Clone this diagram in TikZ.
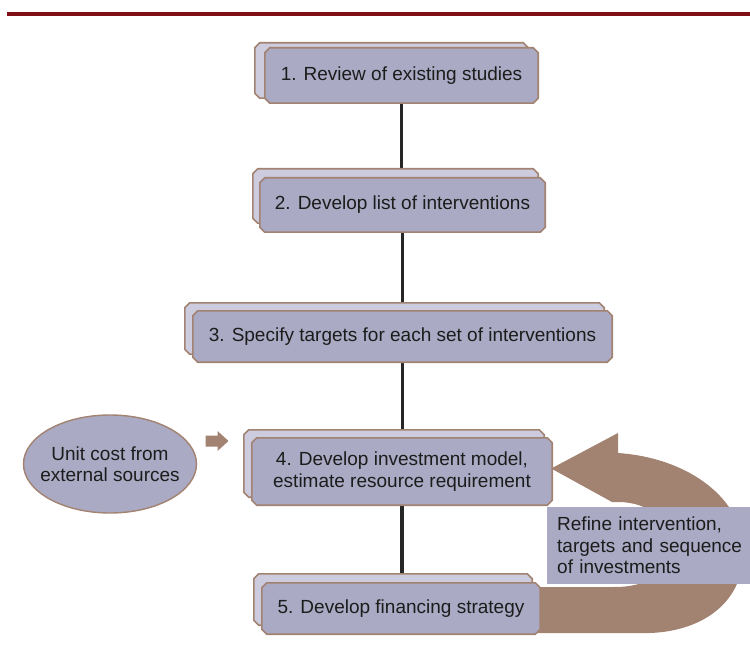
\documentclass[tikz,border=0pt]{standalone}
\usepackage{fontspec}
\setmainfont{Liberation Sans}
\usetikzlibrary{shapes.geometric,backgrounds,calc}
\definecolor{boxfill}{RGB}{170,170,196}
\definecolor{backfill}{RGB}{204,204,222}
\definecolor{brownc}{RGB}{162,130,112}
\definecolor{darkred}{RGB}{128,16,22}
\definecolor{txt}{RGB}{28,28,28}
\pgfdeclarelayer{boxes}
\pgfsetlayers{background,boxes,main}
% chamfered outline round a node: name, fill, dx, dy
\newcommand\chamferbox[4]{%
  \filldraw[fill=#2, draw=brownc, line width=1.6pt]
    ($(#1.north west)+(5+#3,#4)$) -- ($(#1.north east)+(-5+#3,#4)$) --
    ($(#1.north east)+(#3,5+#4)$) -- ($(#1.south east)+(#3,-5+#4)$) --
    ($(#1.south east)+(-5+#3,#4)$) -- ($(#1.south west)+(5+#3,#4)$) --
    ($(#1.south west)+(#3,-5+#4)$) -- ($(#1.north west)+(#3,5+#4)$) -- cycle;}
\begin{document}
\begin{tikzpicture}[x=1pt,y=-1pt,
  every node/.style={font=\fontsize{19}{21.5}\selectfont, text=txt},
  stepbox/.style={rectangle, inner sep=0pt, align=center},
  link/.style={draw=black!85, line width=3.2pt},
  ovalbox/.style={ellipse, draw=brownc, line width=1.4pt, fill=boxfill, inner xsep=-14pt, inner ysep=0pt, align=center},
  notebox/.style={rectangle, fill=boxfill, inner xsep=10pt, inner ysep=0pt, text width=186pt, align=left}]
\useasboundingbox (0,0) rectangle (750,655);
% title rule
\fill[darkred] (7,12) rectangle (750,16.5);

% step boxes (text nodes; outlines drawn on the boxes layer)
\node[stepbox, minimum width=273pt, minimum height=55pt] (b1) at (401.5,75.5) {1. Review of existing studies};
\node[stepbox, minimum width=285pt, minimum height=54pt] (b2) at (402.5,205) {2. Develop list of interventions};
\node[stepbox, minimum width=419pt, minimum height=51pt] (b3) at (402.5,336.5) {3. Specify targets for each set of interventions};
\node[stepbox, minimum width=300pt, minimum height=67pt] (b4) at (402,471.5) {4. Develop investment model,\\estimate resource requirement};
\node[stepbox, minimum width=278pt, minimum height=51pt] (b5) at (401,608.5) {5. Develop financing strategy};

\begin{pgfonlayer}{boxes}
  \chamferbox{b1}{backfill}{-10}{-5}
  \chamferbox{b1}{boxfill}{0}{0}
  \chamferbox{b2}{backfill}{-7}{-9}
  \chamferbox{b2}{boxfill}{0}{0}
  \chamferbox{b3}{backfill}{-8}{-8}
  \chamferbox{b3}{boxfill}{0}{0}
  \chamferbox{b4}{backfill}{-8}{-8}
  \chamferbox{b4}{boxfill}{0}{0}
  \chamferbox{b5}{backfill}{-8}{-9}
  \chamferbox{b5}{boxfill}{0}{0}
\end{pgfonlayer}

% external input
\node[ovalbox, minimum width=173pt, minimum height=98pt] (uc) at (110,464) {Unit cost from\\external sources};
\fill[brownc] (205.5,435.5) -- (217.5,435.5) -- (217.5,431) -- (228.5,441) -- (217.5,451) -- (217.5,446.5) -- (205.5,446.5) -- cycle;

% note
\node[notebox, minimum width=203pt, minimum height=77pt, anchor=north west] (note) at (547,507)
  {Refine intervention,\\targets and sequence\\of investments};

\begin{scope}[on background layer]
  \draw[link] (b1.south) -- (b1.south |- b2.north);
  \draw[link] (b2.south) -- (b2.south |- b3.north);
  \draw[link] (b3.south) -- (b3.south |- b4.north);
  \draw[link] (b4.south) -- (b4.south |- b5.north);
  % feedback loop from step 5 back to step 4
  \coordinate (tip) at ($(b4.east)+(-1,-3)$);
  \coordinate (tail) at ($(b5.east)+(-12,0)$);
  \fill[brownc] (tip) -- (618,433) -- (618,453)
    .. controls (690,458) and (743,500) .. (743,550)
    .. controls (745,600) and (705,631) .. (650,633)
    -- (tail |- 0,633) -- (tail |- 0,587) -- (615,587)
    .. controls (650,587) and (672,570) .. (672,548)
    .. controls (672,522) and (650,502) .. (618,502)
    -- (612,502) -- cycle;
\end{scope}
\end{tikzpicture}
\end{document}
